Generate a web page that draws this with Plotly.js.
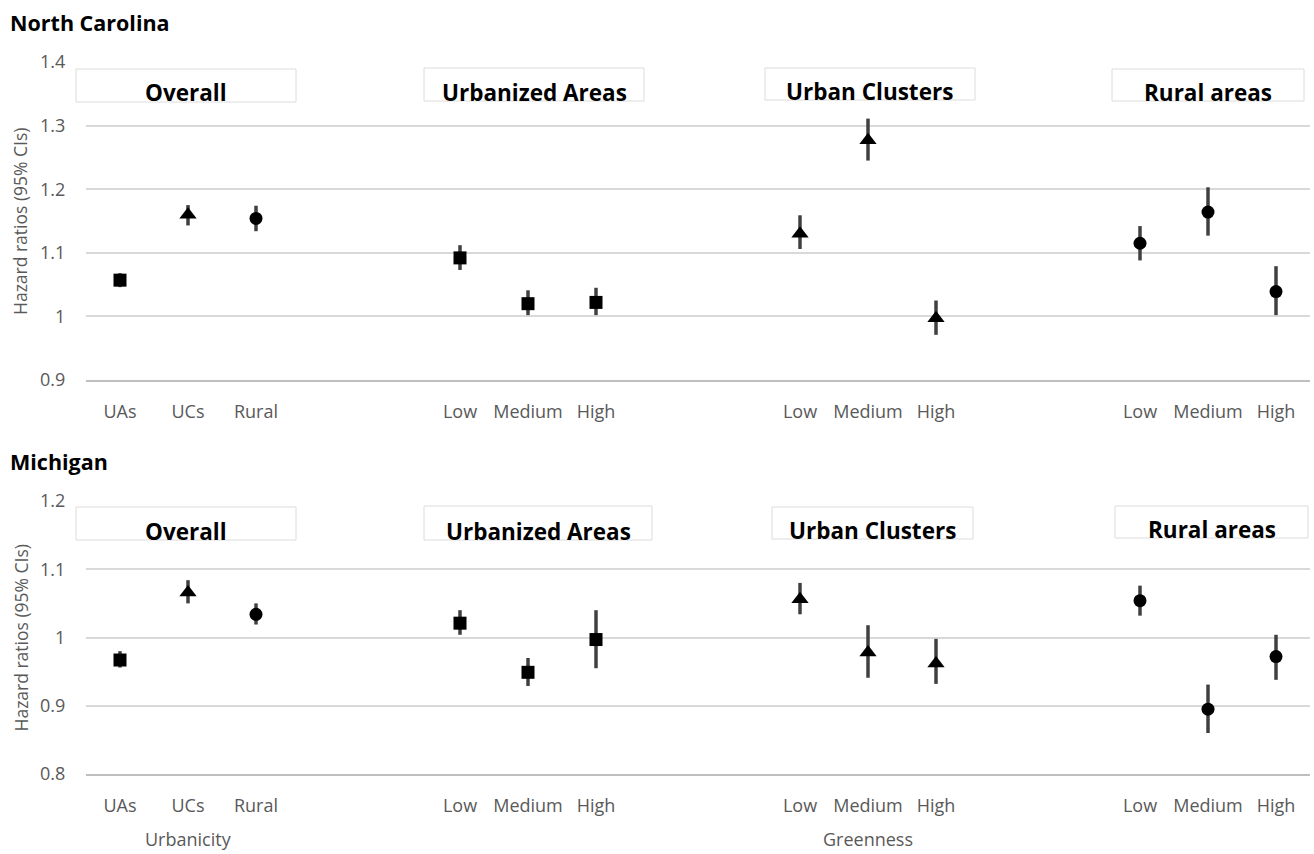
<!DOCTYPE html>
<html>
<head>
<meta charset="utf-8">
<script src="https://cdn.plot.ly/plotly-3.0.1.min.js"></script>
<style>html,body{margin:0;padding:0;background:#fff;}#chart{width:1314px;height:854px;}</style>
</head>
<body>
<div id="chart"></div>
<script>
// ---------- data ----------
const groups = ['Overall', 'Urbanized Areas', 'Urban Clusters', 'Rural areas'];
const groupItems = [
  ['UAs', 'UCs', 'Rural'],
  ['Low', 'Medium', 'High'],
  ['Low', 'Medium', 'High'],
  ['Low', 'Medium', 'High']
];
const panelTitles = ['North Carolina', 'Michigan'];
const axisTitles = ['Urbanicity', 'Greenness'];
const yTitle = 'Hazard ratios (95% CIs)';

const ncHR = [1.057, 1.160, 1.154, 1.092, 1.020, 1.022, 1.130, 1.277, 0.997, 1.115, 1.164, 1.039];
const ncLo = [1.046, 1.143, 1.134, 1.073, 1.002, 1.002, 1.106, 1.245, 0.971, 1.088, 1.127, 1.002];
const ncHi = [1.068, 1.175, 1.174, 1.112, 1.041, 1.045, 1.159, 1.311, 1.025, 1.142, 1.203, 1.079];

const miHR = [0.967, 1.066, 1.034, 1.021, 0.949, 0.997, 1.056, 0.978, 0.962, 1.054, 0.895, 0.972];
const miLo = [0.956, 1.050, 1.019, 1.004, 0.929, 0.955, 1.034, 0.941, 0.932, 1.032, 0.860, 0.938];
const miHi = [0.980, 1.084, 1.050, 1.040, 0.970, 1.040, 1.080, 1.018, 0.998, 1.076, 0.931, 1.004];

const ncTicks = [0.9, 1.0, 1.1, 1.2, 1.3, 1.4];
const ncTickText = ['0.9', '1', '1.1', '1.2', '1.3', '1.4'];
const miTicks = [0.8, 0.9, 1.0, 1.1, 1.2];
const miTickText = ['0.8', '0.9', '1', '1.1', '1.2'];

// ---------- layout helpers ----------
const W = 1314, H = 854;
const M = {l: 86, r: 4, t: 62, b: 80};
const plotW = W - M.l - M.r, plotH = H - M.t - M.b;
const px2x = p => (p - M.l) / plotW;
const py2y = p => (H - M.b - p) / plotH;
const GAP = 5; // slot stride per group (3 items + 2 blank)

const xs = [], tickText = [], symbols = [];
const groupSymbols = [null, 'square', 'triangle-up', 'circle'];
const overallSymbols = ['square', 'triangle-up', 'circle'];
groupItems.forEach((items, g) => {
  items.forEach((lab, i) => {
    xs.push(g * GAP + i);
    tickText.push(lab);
    symbols.push(g === 0 ? overallSymbols[i] : groupSymbols[g]);
  });
});
const sizes = symbols.map(s => s === 'square' ? 13 : (s === 'circle' ? 13 : 15));

const FONT = '"Open Sans", Lato, sans-serif';
const GRAY = '#595959';

function traces(hr, lo, hi, xa, ya) {
  return [{
    type: 'scatter', mode: 'markers', x: xs, y: hr, xaxis: xa, yaxis: ya,
    marker: {size: 1, color: 'rgba(0,0,0,0)'},
    error_y: {type: 'data', symmetric: false,
      array: hi.map((v, i) => v - hr[i]), arrayminus: hr.map((v, i) => v - lo[i]),
      color: '#404040', thickness: 3.5, width: 0},
    showlegend: false, hoverinfo: 'skip'
  }, {
    type: 'scatter', mode: 'markers', x: xs, y: hr, xaxis: xa, yaxis: ya,
    marker: {symbol: symbols, size: sizes, color: '#000', opacity: 1, line: {width: 0}},
    showlegend: false, hoverinfo: 'x+y'
  }];
}

const data = traces(ncHR, ncLo, ncHi, 'x', 'y').concat(traces(miHR, miLo, miHi, 'x2', 'y2'));

const topDom = [py2y(380), 1];
const botDom = [0, py2y(501)];

const xBase = {
  range: [-0.5, 3 * GAP + 2.5], tickmode: 'array', tickvals: xs, ticktext: tickText,
  showgrid: false, zeroline: false, showline: true, linecolor: '#bfbfbf', linewidth: 2,
  ticks: 'outside', ticklen: 14, tickcolor: 'rgba(0,0,0,0)',
  tickfont: {family: FONT, size: 18, color: GRAY}, fixedrange: true
};
const yBase = {
  showgrid: true, gridcolor: '#d9d9d9', gridwidth: 2, zeroline: false, showline: false,
  ticks: 'outside', ticklen: 16, tickcolor: 'rgba(0,0,0,0)',
  tickfont: {family: FONT, size: 18, color: GRAY}, fixedrange: true
};

const annotations = [];
const shapes = [];
// panel titles
annotations.push({text: '<b>' + panelTitles[0] + '</b>', xref: 'paper', yref: 'paper',
  x: px2x(8), y: py2y(22), xanchor: 'left', yanchor: 'middle', showarrow: false,
  font: {family: FONT, size: 21.5, color: '#000'}});
annotations.push({text: '<b>' + panelTitles[1] + '</b>', xref: 'paper', yref: 'paper',
  x: px2x(8), y: py2y(461), xanchor: 'left', yanchor: 'middle', showarrow: false,
  font: {family: FONT, size: 21.5, color: '#000'}});

// y-axis titles (rotated)
[[62, 380], [501, 774]].forEach(r => {
  annotations.push({text: yTitle, xref: 'paper', yref: 'paper', x: px2x(20), y: py2y((r[0] + r[1]) / 2),
    xanchor: 'center', yanchor: 'middle', textangle: -90, showarrow: false,
    font: {family: FONT, size: 17.5, color: GRAY}});
});

// group label boxes
const ncBoxes = [[76, 296, 69, 102], [424, 644, 68, 101], [765, 975, 68, 100], [1112, 1304, 69, 101]];
const miBoxes = [[76, 296, 507, 540], [424, 652, 506, 540], [772, 973, 507, 539], [1115, 1308, 506, 538]];
function addBoxes(boxes) {
  boxes.forEach((b, g) => {
    shapes.push({type: 'rect', xref: 'paper', yref: 'paper', layer: 'above',
      x0: px2x(b[0]), x1: px2x(b[1]), y0: py2y(b[3]), y1: py2y(b[2]),
      fillcolor: '#fff', line: {color: '#dcdcdc', width: 1}});
    annotations.push({text: '<b>' + groups[g] + '</b>', xref: 'paper', yref: 'paper',
      x: px2x((b[0] + b[1]) / 2), y: py2y(b[3] - 9), xanchor: 'center', yanchor: 'middle',
      showarrow: false, font: {family: FONT, size: 22.5, color: '#000'}});
  });
}
addBoxes(ncBoxes);
addBoxes(miBoxes);

// x-axis titles (bottom panel)
annotations.push({text: axisTitles[0], xref: 'x2', yref: 'paper', x: 1, y: py2y(839),
  xanchor: 'center', yanchor: 'middle', showarrow: false, font: {family: FONT, size: 18, color: GRAY}});
annotations.push({text: axisTitles[1], xref: 'x2', yref: 'paper', x: 2 * GAP + 1, y: py2y(839),
  xanchor: 'center', yanchor: 'middle', showarrow: false, font: {family: FONT, size: 18, color: GRAY}});

const layout = {
  width: W, height: H, margin: M, paper_bgcolor: '#fff', plot_bgcolor: '#fff',
  font: {family: FONT},
  xaxis: Object.assign({}, xBase, {anchor: 'y', domain: [0, 1]}),
  yaxis: Object.assign({}, yBase, {anchor: 'x', domain: topDom, range: [0.9, 1.4],
    tickmode: 'array', tickvals: ncTicks, ticktext: ncTickText}),
  xaxis2: Object.assign({}, xBase, {anchor: 'y2', domain: [0, 1]}),
  yaxis2: Object.assign({}, yBase, {anchor: 'x2', domain: botDom, range: [0.8, 1.2],
    tickmode: 'array', tickvals: miTicks, ticktext: miTickText}),
  shapes: shapes, annotations: annotations
};

Plotly.newPlot('chart', data, layout, {displayModeBar: false, staticPlot: true});
</script>
</body>
</html>
